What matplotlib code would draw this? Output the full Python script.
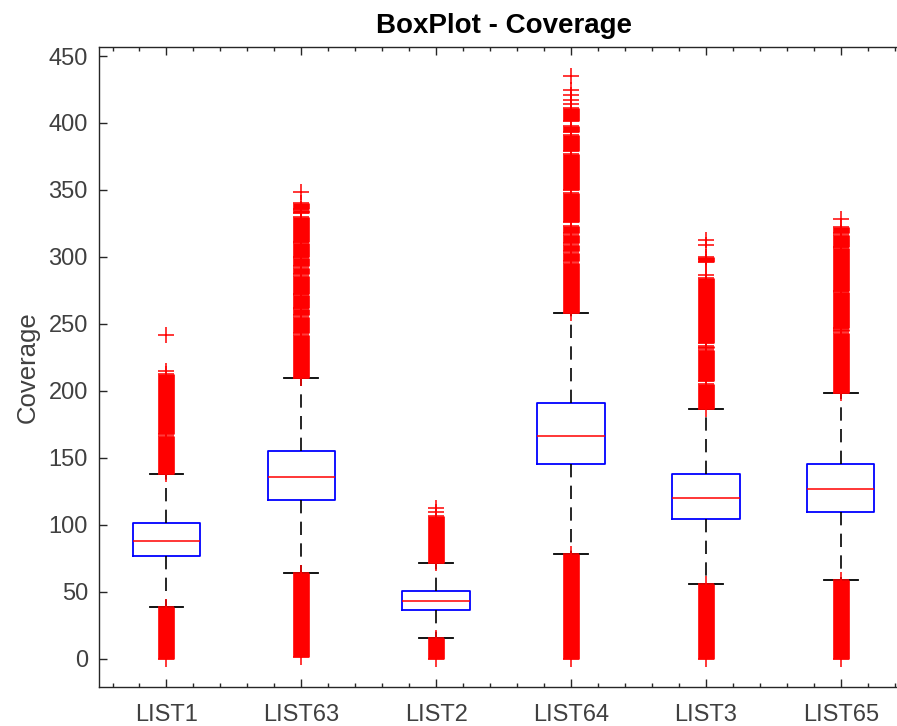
import matplotlib
matplotlib.use("Agg")
import matplotlib.pyplot as plt
from matplotlib.ticker import MultipleLocator

plt.rcParams['font.family'] = ['Liberation Sans', 'DejaVu Sans']

labels = ['LIST1', 'LIST63', 'LIST2', 'LIST64', 'LIST3', 'LIST65']

# box statistics
q1 = [76.4, 118.5, 36.4, 145.1, 104.5, 109.8]
med = [87.6, 135.4, 43.3, 166.0, 120.2, 126.9]
q3 = [101.5, 155.3, 50.5, 191.1, 137.9, 145.1]
whislo = [38.8, 64.2, 15.2, 78.2, 55.5, 58.5]
whishi = [138.1, 209.3, 71.3, 258.1, 186.8, 198.1]

# outliers: dense runs (so many points they merge) as (low, high) ranges
upper_runs = [
    [(138.1, 166.0), (167.5, 212.3)],
    [(209.3, 242.0), (243.0, 255.0), (256.5, 261.0), (262.0, 271.5), (272.5, 286.0),
     (287.0, 292.0), (293.5, 299.0), (300.0, 310.5), (311.5, 330.0), (332.5, 335.0),
     (336.0, 340.5)],
    [(71.3, 106.8)],
    [(258.1, 295.5), (297.0, 303.0), (304.5, 309.0), (310.5, 316.0), (317.5, 323.0),
     (326.0, 348.0), (350.0, 377.0), (379.0, 391.0), (393.0, 398.0), (401.5, 411.0)],
    [(186.8, 205.0), (207.5, 230.5), (232.0, 233.5), (235.5, 284.0), (296.5, 300.0)],
    [(198.1, 243.5), (244.5, 246.0), (247.0, 273.5), (274.5, 306.5), (307.5, 316.5),
     (317.5, 322.5)],
]
lower_runs = [
    [(0.0, 38.8)],
    [(1.0, 64.2)],
    [(0.0, 15.2)],
    [(0.0, 78.2)],
    [(0.0, 55.5)],
    [(0.0, 58.5)],
]
# single outliers standing apart
lone_points = [
    [214.8, 241.6],
    [348.6],
    [109.5, 112.3],
    [414.0, 417.5, 421.0, 424.5, 435.2],
    [286.4, 298.5, 308.8, 312.6],
    [328.0],
]

fig = plt.figure(figsize=(8.97, 7.26), dpi=100)
ax = fig.add_axes([0.1104, 0.0537, 0.902, 0.8815])

pos = list(range(1, len(labels) + 1))
stats = []
for i in range(len(labels)):
    stats.append(dict(label=labels[i], q1=q1[i], med=med[i], q3=q3[i],
                      whislo=whislo[i], whishi=whishi[i], fliers=[]))

ax.bxp(stats, positions=pos, widths=0.5, capwidths=0.25, showfliers=False,
       boxprops=dict(color='#0000ff', linewidth=1.3),
       medianprops=dict(color='#ff0000', linewidth=1.1),
       whiskerprops=dict(color='black', linewidth=1.2, linestyle=(0, (8, 5))),
       capprops=dict(color='black', linewidth=1.3))

red = '#ff0000'
for i, p in enumerate(pos):
    for lo, hi in upper_runs[i] + lower_runs[i]:
        ax.vlines(p, lo, hi, colors=red, linewidth=12, capstyle='butt', zorder=4)
        ax.plot([p, p], [lo, hi], '+', color=red, ms=12, mew=1.1, zorder=4)
    ax.plot([p] * len(lone_points[i]), lone_points[i], '+', color=red,
            ms=12, mew=1.1, zorder=4)

ax.set_xlim(0.5, 6.5)
ax.set_ylim(-21.1, 456.7)
ax.set_xticks(pos)
ax.set_xticklabels(labels)
ax.set_yticks(range(0, 451, 50))
ax.xaxis.set_minor_locator(MultipleLocator(0.2))

grey = '#262626'
for s in ax.spines.values():
    s.set_color(grey)
    s.set_linewidth(1.0)
ax.tick_params(which='both', direction='in', top=True, right=True, colors=grey,
               labelcolor='#404040', labelsize=17)
ax.tick_params(which='major', length=6, width=1.0)
ax.tick_params(axis='x', which='major', pad=12)
ax.tick_params(axis='y', which='major', pad=8)
ax.tick_params(which='minor', length=3, width=1.0)

ax.set_ylabel('Coverage', fontsize=18.5, color='#404040', labelpad=6)
ax.set_title('BoxPlot - Coverage', fontsize=20, fontweight='bold', pad=10)

fig.savefig('out.png', dpi=100)
